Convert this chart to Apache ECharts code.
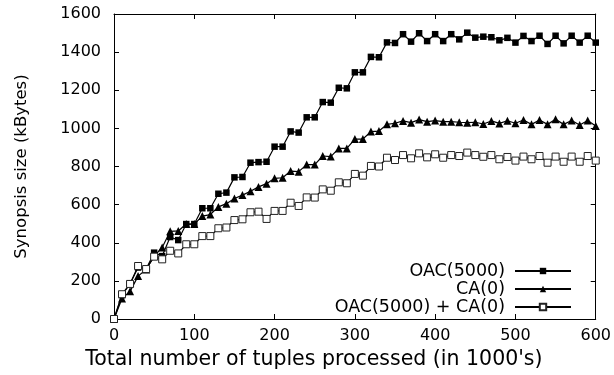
<!DOCTYPE html>
<html>
<head>
<meta charset="utf-8">
<script src="https://cdn.jsdelivr.net/npm/echarts@6/dist/echarts.min.js"></script>
<style>
  html, body { margin: 0; padding: 0; background: #fff; }
  #chart { width: 614px; height: 375px; }
</style>
</head>
<body>
<div id="chart"></div>
<script>
// tuples processed (in 1000's)
var tuples = [0, 10, 20, 30, 40, 50, 60, 70, 80, 90, 100, 110, 120, 130, 140, 150, 160, 170, 180, 190,
  200, 210, 220, 230, 240, 250, 260, 270, 280, 290, 300, 310, 320, 330, 340, 350, 360, 370, 380, 390,
  400, 410, 420, 430, 440, 450, 460, 470, 480, 490, 500, 510, 520, 530, 540, 550, 560, 570, 580, 590, 600];

// synopsis size (kBytes)
var oac5000 = [0, 125, 185, 270, 262, 348, 330, 430, 414, 498, 498, 581, 581, 657, 663, 743, 745, 820, 823, 825,
  904, 904, 984, 978, 1058, 1058, 1138, 1135, 1213, 1210, 1294, 1294, 1375, 1373, 1451, 1448, 1494, 1455, 1499, 1458,
  1494, 1458, 1494, 1467, 1502, 1476, 1481, 1478, 1462, 1475, 1450, 1485, 1458, 1486, 1443, 1486, 1446, 1486, 1450, 1486, 1450];

var ca0 = [0, 108, 145, 225, 260, 330, 375, 460, 462, 498, 498, 540, 548, 588, 605, 632, 650, 670, 693, 710,
  738, 741, 776, 773, 810, 810, 855, 852, 895, 895, 944, 944, 983, 986, 1021, 1027, 1039, 1030, 1046, 1035,
  1041, 1035, 1035, 1032, 1030, 1032, 1023, 1039, 1026, 1040, 1027, 1044, 1021, 1044, 1021, 1048, 1021, 1041, 1018, 1041, 1013];

var oacPlusCa = [0, 130, 184, 278, 262, 327, 313, 358, 344, 392, 392, 435, 435, 476, 480, 519, 523, 560, 563, 525,
  567, 567, 610, 593, 638, 637, 680, 673, 717, 712, 761, 752, 803, 800, 846, 834, 860, 843, 869, 848,
  864, 846, 860, 855, 873, 860, 851, 860, 838, 850, 831, 852, 838, 855, 820, 852, 825, 852, 825, 855, 831];

var seriesNames = ['OAC(5000)', 'CA(0)', 'OAC(5000) + CA(0)'];

function pairs(vals) {
  return tuples.map(function (t, i) { return [t, vals[i]]; });
}

var font = 'DejaVu Sans, sans-serif';

var frameAxis = {
  type: 'value', min: 0, interval: 100,
  axisLine: { show: true, onZero: false, lineStyle: { color: '#000', width: 1 } },
  axisTick: { show: true, inside: true, length: 5, lineStyle: { color: '#000' } },
  splitLine: { show: false }
};

echarts.init(document.getElementById('chart')).setOption({
  animation: false,
  backgroundColor: '#fff',
  textStyle: { fontFamily: font, color: '#000' },
  grid: { left: 114, right: 17, top: 14, bottom: 56 },
  legend: {
    data: seriesNames,
    orient: 'vertical',
    align: 'right',
    right: 37,
    top: 257,
    itemWidth: 56,
    itemHeight: 8,
    itemGap: 0,
    textStyle: { fontFamily: font, fontSize: 17.5, lineHeight: 18, color: '#000', padding: [0, 5, 0, 0] }
  },
  xAxis: [
    Object.assign({}, frameAxis, {
      max: 600, position: 'bottom',
      name: "Total number of tuples processed (in 1000's)",
      nameLocation: 'middle', nameGap: 30,
      nameTextStyle: { fontFamily: font, fontSize: 20.5, color: '#000', padding: [0, 82, 0, 0] },
      axisLabel: { fontFamily: font, fontSize: 16, color: '#000', margin: 9 }
    }),
    Object.assign({}, frameAxis, { max: 600, position: 'top', axisLabel: { show: false } })
  ],
  yAxis: [
    Object.assign({}, frameAxis, {
      max: 1600, interval: 200, position: 'left',
      name: 'Synopsis size (kBytes)',
      nameLocation: 'middle', nameGap: 84, nameRotate: 90,
      nameTextStyle: { fontFamily: font, fontSize: 16.5, color: '#000' },
      axisLabel: { fontFamily: font, fontSize: 16, color: '#000', margin: 13, formatter: function (v) { return String(v); } }
    }),
    Object.assign({}, frameAxis, { max: 1600, interval: 200, position: 'right', axisLabel: { show: false } })
  ],
  series: [
    {
      name: seriesNames[0], type: 'line', data: pairs(oac5000),
      symbol: 'rect', symbolSize: 6.5, showAllSymbol: true,
      lineStyle: { color: '#000', width: 1.2 },
      itemStyle: { color: '#000' }
    },
    {
      name: seriesNames[1], type: 'line', data: pairs(ca0),
      symbol: 'triangle', symbolSize: 8, showAllSymbol: true,
      lineStyle: { color: '#000', width: 1.2 },
      itemStyle: { color: '#000' }
    },
    {
      name: seriesNames[2], type: 'line', data: pairs(oacPlusCa),
      symbol: 'rect', symbolSize: 7, showAllSymbol: true,
      lineStyle: { color: '#000', width: 1.2 },
      itemStyle: { color: '#fff', borderColor: '#222', borderWidth: 1 }
    }
  ]
});
</script>
</body>
</html>
